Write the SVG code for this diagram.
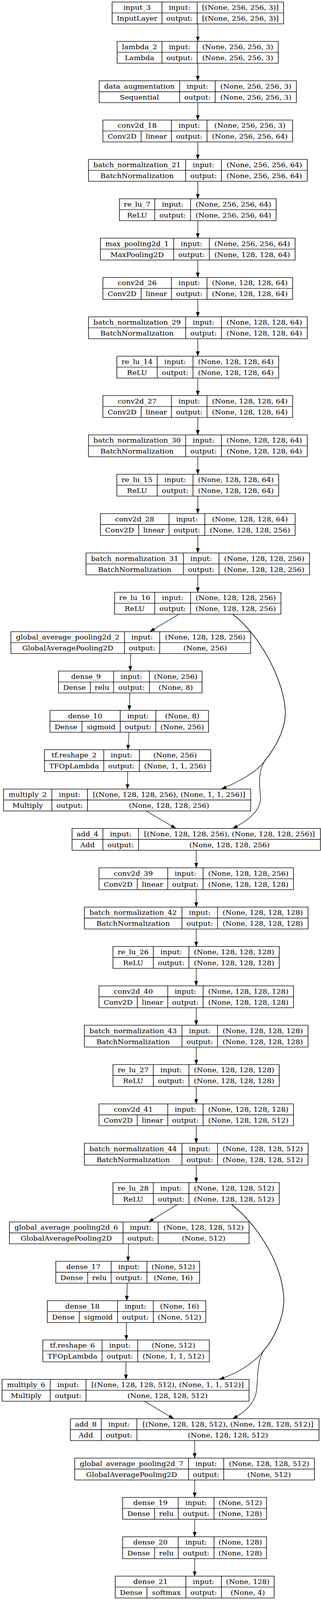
<svg xmlns="http://www.w3.org/2000/svg" width="822" height="4500" viewBox="0 0 822 4500">
<style>
.b{fill:#fff;stroke:#000;stroke-width:1.5}
.l{fill:none;stroke:#000;stroke-width:1.5}
text{font-family:"DejaVu Serif",serif;font-size:18.5px;text-anchor:middle;fill:#000}
.e{fill:none;stroke:#000;stroke-width:1.3;marker-end:url(#ah)}
</style>
<defs>
<marker id="ah" markerUnits="userSpaceOnUse" viewBox="0 0 14 10" markerWidth="14" markerHeight="10" refX="13.6" refY="4.8" orient="auto"><path d="M0,0 L13.6,4.8 L0,9.6 z" fill="#000"/></marker>
</defs>
<rect width="822" height="4500" fill="#fff"/>
<g id="diagram" transform="scale(1,0.91022)">
<g id="connectors">
<path class="e" d="M506.5,67.2V116.4"/>
<path class="e" d="M506.5,177.9V227.1"/>
<path class="e" d="M506.5,288.6V337.7"/>
<path class="e" d="M506.5,399.2V448.4"/>
<path class="e" d="M506.5,509.9V559.1"/>
<path class="e" d="M506.5,620.6V669.8"/>
<path class="e" d="M506.5,731.3V780.5"/>
<path class="e" d="M506.5,842V891.1"/>
<path class="e" d="M506.5,952.6V1001.8"/>
<path class="e" d="M506.5,1063.3V1112.5"/>
<path class="e" d="M506.5,1174V1223.2"/>
<path class="e" d="M506.5,1284.7V1333.9"/>
<path class="e" d="M506.5,1395.4V1444.5"/>
<path class="e" d="M506.5,1506V1555.2"/>
<path class="e" d="M506.5,1616.7V1665.9"/>
<path class="e" d="M458.5,1727.4L383.7,1776.6"/>
<path class="e" d="M334.8,1838.1L333.5,1887.3"/>
<path class="e" d="M332.5,1948.8L331,1997.9"/>
<path class="e" d="M330.5,2059.4L327.5,2108.6"/>
<path class="e" d="M326.7,2170.1L326.5,2219.3"/>
<path class="e" d="M374,2280.8L450.6,2330"/>
<path class="e" d="M595.5,1727.4C660,1780 722,1900 730,1990C736,2050 700,2110 680,2137C660,2170 610,2200 566.5,2219.3"/>
<path class="e" d="M595.5,1727.4C660,1780 722,1900 730,1990C736,2050 700,2110 680,2137C662,2165 663,2200 667,2240C670,2280 632,2310 595.5,2330"/>
<path class="e" d="M502.5,2391.5V2440.7"/>
<path class="e" d="M502.5,2502.2V2551.3"/>
<path class="e" d="M502.5,2612.8V2662"/>
<path class="e" d="M502.5,2723.5V2772.7"/>
<path class="e" d="M502.5,2834.2V2883.4"/>
<path class="e" d="M502.5,2944.9V2994.1"/>
<path class="e" d="M502.5,3055.6V3104.7"/>
<path class="e" d="M502.5,3166.2V3215.4"/>
<path class="e" d="M502.5,3276.9V3326.1"/>
<path class="e" d="M454.3,3387.6L380.5,3436.8"/>
<path class="e" d="M329.4,3498.3L327.8,3547.5"/>
<path class="e" d="M325.7,3609L324.6,3658.1"/>
<path class="e" d="M323.6,3719.6L323.6,3768.8"/>
<path class="e" d="M322.5,3830.3L322.5,3879.5"/>
<path class="e" d="M370,3941L445,3990.2"/>
<path class="e" d="M592.9,3387.6C655,3440 718,3545 726,3640C732,3700 700,3768 676,3797C655,3830 610,3862 561,3879.5"/>
<path class="e" d="M592.9,3387.6C655,3440 718,3545 726,3640C732,3700 700,3768 676,3797C660,3825 660,3860 658,3900C656,3945 630,3970 595.5,3990.2"/>
<path class="e" d="M498.5,4051.7V4100.9"/>
<path class="e" d="M498.5,4162.4V4211.5"/>
<path class="e" d="M498.5,4273V4322.2"/>
<path class="e" d="M498.5,4383.7V4432.9"/>
</g>

<g id="input_3" transform="translate(287.2,5.7)"><rect class="b" width="439" height="61.5"/><path class="l" d="M0,30.75H439M127.5,0V61.5M217.7,0V61.5"/>
<text x="63.75" y="22">input_3</text><text x="63.75" y="52.8">InputLayer</text><text x="172.6" y="22">input:</text><text x="172.6" y="52.8">output:</text><text x="328.35" y="22">[(None, 256, 256, 3)]</text><text x="328.35" y="52.8">[(None, 256, 256, 3)]</text></g>

<g id="lambda_2" transform="translate(299.9,116.4)"><rect class="b" width="412.6" height="61.5"/><path class="l" d="M0,30.75H412.6M114.8,0V61.5M205,0V61.5"/>
<text x="57.4" y="22">lambda_2</text><text x="57.4" y="52.8">Lambda</text><text x="159.9" y="22">input:</text><text x="159.9" y="52.8">output:</text><text x="308.8" y="22">(None, 256, 256, 3)</text><text x="308.8" y="52.8">(None, 256, 256, 3)</text></g>

<g id="data_augmentation" transform="translate(254,227.1)"><rect class="b" width="504.9" height="61.5"/><path class="l" d="M0,30.75H504.9M206,0V61.5M297.2,0V61.5"/>
<text x="103" y="22">data_augmentation</text><text x="103" y="52.8">Sequential</text><text x="251.6" y="22">input:</text><text x="251.6" y="52.8">output:</text><text x="401.05" y="22">(None, 256, 256, 3)</text><text x="401.05" y="52.8">(None, 256, 256, 3)</text></g>

<g id="conv2d_18" transform="translate(263.5,337.7)"><rect class="b" width="485.9" height="61.5"/><path class="l" d="M0,30.75H485.9M175.5,0V61.5M266.7,0V61.5M98,30.75V61.5"/>
<text x="87.75" y="22">conv2d_18</text><text x="49" y="52.8">Conv2D</text><text x="136.75" y="52.8">linear</text><text x="221.1" y="22">input:</text><text x="221.1" y="52.8">output:</text><text x="376.3" y="22">(None, 256, 256, 3)</text><text x="376.3" y="52.8">(None, 256, 256, 64)</text></g>

<g id="batch_normalization_21" transform="translate(226.6,448.4)"><rect class="b" width="560.2" height="61.5"/><path class="l" d="M0,30.75H560.2M248.8,0V61.5M340.4,0V61.5"/>
<text x="124.4" y="22">batch_normalization_21</text><text x="124.4" y="52.8">BatchNormalization</text><text x="294.6" y="22">input:</text><text x="294.6" y="52.8">output:</text><text x="450.3" y="22">(None, 256, 256, 64)</text><text x="450.3" y="52.8">(None, 256, 256, 64)</text></g>

<g id="re_lu_7" transform="translate(305.7,559.1)"><rect class="b" width="401.5" height="61.5"/><path class="l" d="M0,30.75H401.5M90.6,0V61.5M182.3,0V61.5"/>
<text x="45.3" y="22">re_lu_7</text><text x="45.3" y="52.8">ReLU</text><text x="136.45" y="22">input:</text><text x="136.45" y="52.8">output:</text><text x="291.9" y="22">(None, 256, 256, 64)</text><text x="291.9" y="52.8">(None, 256, 256, 64)</text></g>

<g id="max_pooling2d_1" transform="translate(257.2,669.8)"><rect class="b" width="498.5" height="61.5"/><path class="l" d="M0,30.75H498.5M187.6,0V61.5M278.8,0V61.5"/>
<text x="93.8" y="22">max_pooling2d_1</text><text x="93.8" y="52.8">MaxPooling2D</text><text x="233.2" y="22">input:</text><text x="233.2" y="52.8">output:</text><text x="388.65" y="22">(None, 256, 256, 64)</text><text x="388.65" y="52.8">(None, 128, 128, 64)</text></g>

<g id="conv2d_26" transform="translate(263.5,780.5)"><rect class="b" width="485.9" height="61.5"/><path class="l" d="M0,30.75H485.9M175.5,0V61.5M266.7,0V61.5M98,30.75V61.5"/>
<text x="87.75" y="22">conv2d_26</text><text x="49" y="52.8">Conv2D</text><text x="136.75" y="52.8">linear</text><text x="221.1" y="22">input:</text><text x="221.1" y="52.8">output:</text><text x="376.3" y="22">(None, 128, 128, 64)</text><text x="376.3" y="52.8">(None, 128, 128, 64)</text></g>

<g id="batch_normalization_29" transform="translate(226.6,891.1)"><rect class="b" width="560.2" height="61.5"/><path class="l" d="M0,30.75H560.2M248.8,0V61.5M340.4,0V61.5"/>
<text x="124.4" y="22">batch_normalization_29</text><text x="124.4" y="52.8">BatchNormalization</text><text x="294.6" y="22">input:</text><text x="294.6" y="52.8">output:</text><text x="450.3" y="22">(None, 128, 128, 64)</text><text x="450.3" y="52.8">(None, 128, 128, 64)</text></g>

<g id="re_lu_14" transform="translate(299.3,1001.8)"><rect class="b" width="414.3" height="61.5"/><path class="l" d="M0,30.75H414.3M103.3,0V61.5M195,0V61.5"/>
<text x="51.65" y="22">re_lu_14</text><text x="51.65" y="52.8">ReLU</text><text x="149.15" y="22">input:</text><text x="149.15" y="52.8">output:</text><text x="304.65" y="22">(None, 128, 128, 64)</text><text x="304.65" y="52.8">(None, 128, 128, 64)</text></g>

<g id="conv2d_27" transform="translate(263.5,1112.5)"><rect class="b" width="485.9" height="61.5"/><path class="l" d="M0,30.75H485.9M175.5,0V61.5M266.7,0V61.5M98,30.75V61.5"/>
<text x="87.75" y="22">conv2d_27</text><text x="49" y="52.8">Conv2D</text><text x="136.75" y="52.8">linear</text><text x="221.1" y="22">input:</text><text x="221.1" y="52.8">output:</text><text x="376.3" y="22">(None, 128, 128, 64)</text><text x="376.3" y="52.8">(None, 128, 128, 64)</text></g>

<g id="batch_normalization_30" transform="translate(226.6,1223.2)"><rect class="b" width="560.2" height="61.5"/><path class="l" d="M0,30.75H560.2M248.8,0V61.5M340.4,0V61.5"/>
<text x="124.4" y="22">batch_normalization_30</text><text x="124.4" y="52.8">BatchNormalization</text><text x="294.6" y="22">input:</text><text x="294.6" y="52.8">output:</text><text x="450.3" y="22">(None, 128, 128, 64)</text><text x="450.3" y="52.8">(None, 128, 128, 64)</text></g>

<g id="re_lu_15" transform="translate(299.3,1333.9)"><rect class="b" width="414.3" height="61.5"/><path class="l" d="M0,30.75H414.3M103.3,0V61.5M195,0V61.5"/>
<text x="51.65" y="22">re_lu_15</text><text x="51.65" y="52.8">ReLU</text><text x="149.15" y="22">input:</text><text x="149.15" y="52.8">output:</text><text x="304.65" y="22">(None, 128, 128, 64)</text><text x="304.65" y="52.8">(None, 128, 128, 64)</text></g>

<g id="conv2d_28" transform="translate(257.2,1444.5)"><rect class="b" width="498.5" height="61.5"/><path class="l" d="M0,30.75H498.5M175.5,0V61.5M267.2,0V61.5M98,30.75V61.5"/>
<text x="87.75" y="22">conv2d_28</text><text x="49" y="52.8">Conv2D</text><text x="136.75" y="52.8">linear</text><text x="221.35" y="22">input:</text><text x="221.35" y="52.8">output:</text><text x="382.85" y="22">(None, 128, 128, 64)</text><text x="382.85" y="52.8">(None, 128, 128, 256)</text></g>

<g id="batch_normalization_31" transform="translate(220.3,1555.2)"><rect class="b" width="572.3" height="61.5"/><path class="l" d="M0,30.75H572.3M249.3,0V61.5M340.4,0V61.5"/>
<text x="124.65" y="22">batch_normalization_31</text><text x="124.65" y="52.8">BatchNormalization</text><text x="294.85" y="22">input:</text><text x="294.85" y="52.8">output:</text><text x="456.35" y="22">(None, 128, 128, 256)</text><text x="456.35" y="52.8">(None, 128, 128, 256)</text></g>

<g id="re_lu_16" transform="translate(293.5,1665.9)"><rect class="b" width="425.9" height="61.5"/><path class="l" d="M0,30.75H425.9M102.8,0V61.5M194.5,0V61.5"/>
<text x="51.4" y="22">re_lu_16</text><text x="51.4" y="52.8">ReLU</text><text x="148.65" y="22">input:</text><text x="148.65" y="52.8">output:</text><text x="310.2" y="22">(None, 128, 128, 256)</text><text x="310.2" y="52.8">(None, 128, 128, 256)</text></g>

<g id="global_average_pooling2d_2" transform="translate(27.9,1776.6)"><rect class="b" width="614" height="61.5"/><path class="l" d="M0,30.75H614M290.9,0V61.5M381,0V61.5"/>
<text x="145.45" y="22">global_average_pooling2d_2</text><text x="145.45" y="52.8">GlobalAveragePooling2D</text><text x="335.95" y="22">input:</text><text x="335.95" y="52.8">output:</text><text x="497.5" y="22">(None, 128, 128, 256)</text><text x="497.5" y="52.8">(None, 256)</text></g>

<g id="dense_9" transform="translate(149.7,1887.3)"><rect class="b" width="367.8" height="61.5"/><path class="l" d="M0,30.75H367.8M141.2,0V61.5M232.9,0V61.5M81.7,30.75V61.5"/>
<text x="70.6" y="22">dense_9</text><text x="40.85" y="52.8">Dense</text><text x="111.45" y="52.8">relu</text><text x="187.05" y="22">input:</text><text x="187.05" y="52.8">output:</text><text x="300.35" y="22">(None, 256)</text><text x="300.35" y="52.8">(None, 8)</text></g>

<g id="dense_10" transform="translate(128,1997.9)"><rect class="b" width="405.9" height="61.5"/><path class="l" d="M0,30.75H405.9M179.8,0V61.5M271,0V61.5M81.7,30.75V61.5"/>
<text x="89.9" y="22">dense_10</text><text x="40.85" y="52.8">Dense</text><text x="130.75" y="52.8">sigmoid</text><text x="225.4" y="22">input:</text><text x="225.4" y="52.8">output:</text><text x="338.45" y="22">(None, 8)</text><text x="338.45" y="52.8">(None, 256)</text></g>

<g id="tf_reshape_2" transform="translate(113.8,2108.6)"><rect class="b" width="425.8" height="61.5"/><path class="l" d="M0,30.75H425.8M151.8,0V61.5M243,0V61.5"/>
<text x="75.9" y="22">tf.reshape_2</text><text x="75.9" y="52.8">TFOpLambda</text><text x="197.4" y="22">input:</text><text x="197.4" y="52.8">output:</text><text x="334.4" y="22">(None, 256)</text><text x="334.4" y="52.8">(None, 1, 1, 256)</text></g>

<g id="multiply_2" transform="translate(9,2219.3)"><rect class="b" width="632.9" height="61.5"/><path class="l" d="M0,30.75H632.9M123.8,0V61.5M215,0V61.5"/>
<text x="61.9" y="22">multiply_2</text><text x="61.9" y="52.8">Multiply</text><text x="169.4" y="22">input:</text><text x="169.4" y="52.8">output:</text><text x="423.95" y="22">[(None, 128, 128, 256), (None, 1, 1, 256)]</text><text x="423.95" y="52.8">(None, 128, 128, 256)</text></g>

<g id="add_4" transform="translate(184.5,2330)"><rect class="b" width="636" height="61.5"/><path class="l" d="M0,30.75H636M79,0V61.5M170.2,0V61.5"/>
<text x="39.5" y="22">add_4</text><text x="39.5" y="52.8">Add</text><text x="124.6" y="22">input:</text><text x="124.6" y="52.8">output:</text><text x="403.1" y="22">[(None, 128, 128, 256), (None, 128, 128, 256)]</text><text x="403.1" y="52.8">(None, 128, 128, 256)</text></g>

<g id="conv2d_39" transform="translate(253.5,2440.7)"><rect class="b" width="498" height="61.5"/><path class="l" d="M0,30.75H498M176,0V61.5M266.6,0V61.5M98,30.75V61.5"/>
<text x="88" y="22">conv2d_39</text><text x="49" y="52.8">Conv2D</text><text x="137" y="52.8">linear</text><text x="221.3" y="22">input:</text><text x="221.3" y="52.8">output:</text><text x="382.3" y="22">(None, 128, 128, 256)</text><text x="382.3" y="52.8">(None, 128, 128, 128)</text></g>

<g id="batch_normalization_42" transform="translate(216,2551.3)"><rect class="b" width="572.9" height="61.5"/><path class="l" d="M0,30.75H572.9M249.9,0V61.5M341,0V61.5"/>
<text x="124.95" y="22">batch_normalization_42</text><text x="124.95" y="52.8">BatchNormalization</text><text x="295.45" y="22">input:</text><text x="295.45" y="52.8">output:</text><text x="456.95" y="22">(None, 128, 128, 128)</text><text x="456.95" y="52.8">(None, 128, 128, 128)</text></g>

<g id="re_lu_26" transform="translate(289.3,2662)"><rect class="b" width="425.8" height="61.5"/><path class="l" d="M0,30.75H425.8M103.3,0V61.5M194.5,0V61.5"/>
<text x="51.65" y="22">re_lu_26</text><text x="51.65" y="52.8">ReLU</text><text x="148.9" y="22">input:</text><text x="148.9" y="52.8">output:</text><text x="310.15" y="22">(None, 128, 128, 128)</text><text x="310.15" y="52.8">(None, 128, 128, 128)</text></g>

<g id="conv2d_40" transform="translate(253.5,2772.7)"><rect class="b" width="498" height="61.5"/><path class="l" d="M0,30.75H498M176,0V61.5M266.6,0V61.5M98,30.75V61.5"/>
<text x="88" y="22">conv2d_40</text><text x="49" y="52.8">Conv2D</text><text x="137" y="52.8">linear</text><text x="221.3" y="22">input:</text><text x="221.3" y="52.8">output:</text><text x="382.3" y="22">(None, 128, 128, 128)</text><text x="382.3" y="52.8">(None, 128, 128, 128)</text></g>

<g id="batch_normalization_43" transform="translate(216,2883.4)"><rect class="b" width="572.9" height="61.5"/><path class="l" d="M0,30.75H572.9M249.9,0V61.5M341,0V61.5"/>
<text x="124.95" y="22">batch_normalization_43</text><text x="124.95" y="52.8">BatchNormalization</text><text x="295.45" y="22">input:</text><text x="295.45" y="52.8">output:</text><text x="456.95" y="22">(None, 128, 128, 128)</text><text x="456.95" y="52.8">(None, 128, 128, 128)</text></g>

<g id="re_lu_27" transform="translate(289.3,2994.1)"><rect class="b" width="425.8" height="61.5"/><path class="l" d="M0,30.75H425.8M103.3,0V61.5M194.5,0V61.5"/>
<text x="51.65" y="22">re_lu_27</text><text x="51.65" y="52.8">ReLU</text><text x="148.9" y="22">input:</text><text x="148.9" y="52.8">output:</text><text x="310.15" y="22">(None, 128, 128, 128)</text><text x="310.15" y="52.8">(None, 128, 128, 128)</text></g>

<g id="conv2d_41" transform="translate(253.5,3104.7)"><rect class="b" width="498" height="61.5"/><path class="l" d="M0,30.75H498M176,0V61.5M266.6,0V61.5M98,30.75V61.5"/>
<text x="88" y="22">conv2d_41</text><text x="49" y="52.8">Conv2D</text><text x="137" y="52.8">linear</text><text x="221.3" y="22">input:</text><text x="221.3" y="52.8">output:</text><text x="382.3" y="22">(None, 128, 128, 128)</text><text x="382.3" y="52.8">(None, 128, 128, 512)</text></g>

<g id="batch_normalization_44" transform="translate(216,3215.4)"><rect class="b" width="572.9" height="61.5"/><path class="l" d="M0,30.75H572.9M249.9,0V61.5M341,0V61.5"/>
<text x="124.95" y="22">batch_normalization_44</text><text x="124.95" y="52.8">BatchNormalization</text><text x="295.45" y="22">input:</text><text x="295.45" y="52.8">output:</text><text x="456.95" y="22">(None, 128, 128, 512)</text><text x="456.95" y="52.8">(None, 128, 128, 512)</text></g>

<g id="re_lu_28" transform="translate(289.3,3326.1)"><rect class="b" width="425.8" height="61.5"/><path class="l" d="M0,30.75H425.8M103.3,0V61.5M194.5,0V61.5"/>
<text x="51.65" y="22">re_lu_28</text><text x="51.65" y="52.8">ReLU</text><text x="148.9" y="22">input:</text><text x="148.9" y="52.8">output:</text><text x="310.15" y="22">(None, 128, 128, 512)</text><text x="310.15" y="52.8">(None, 128, 128, 512)</text></g>

<g id="global_average_pooling2d_6" transform="translate(24.2,3436.8)"><rect class="b" width="613.5" height="61.5"/><path class="l" d="M0,30.75H613.5M290.9,0V61.5M381,0V61.5"/>
<text x="145.45" y="22">global_average_pooling2d_6</text><text x="145.45" y="52.8">GlobalAveragePooling2D</text><text x="335.95" y="22">input:</text><text x="335.95" y="52.8">output:</text><text x="497.25" y="22">(None, 128, 128, 512)</text><text x="497.25" y="52.8">(None, 512)</text></g>

<g id="dense_17" transform="translate(142.8,3547.5)"><rect class="b" width="368.4" height="61.5"/><path class="l" d="M0,30.75H368.4M141.8,0V61.5M233.5,0V61.5M81.7,30.75V61.5"/>
<text x="70.9" y="22">dense_17</text><text x="40.85" y="52.8">Dense</text><text x="111.75" y="52.8">relu</text><text x="187.65" y="22">input:</text><text x="187.65" y="52.8">output:</text><text x="300.95" y="22">(None, 512)</text><text x="300.95" y="52.8">(None, 16)</text></g>

<g id="dense_18" transform="translate(121.2,3658.1)"><rect class="b" width="405.8" height="61.5"/><path class="l" d="M0,30.75H405.8M179.7,0V61.5M271.4,0V61.5M81.7,30.75V61.5"/>
<text x="89.85" y="22">dense_18</text><text x="40.85" y="52.8">Dense</text><text x="130.7" y="52.8">sigmoid</text><text x="225.55" y="22">input:</text><text x="225.55" y="52.8">output:</text><text x="338.6" y="22">(None, 16)</text><text x="338.6" y="52.8">(None, 512)</text></g>

<g id="tf_reshape_6" transform="translate(109.6,3768.8)"><rect class="b" width="426.4" height="61.5"/><path class="l" d="M0,30.75H426.4M151.8,0V61.5M243,0V61.5"/>
<text x="75.9" y="22">tf.reshape_6</text><text x="75.9" y="52.8">TFOpLambda</text><text x="197.4" y="22">input:</text><text x="197.4" y="52.8">output:</text><text x="334.7" y="22">(None, 512)</text><text x="334.7" y="52.8">(None, 1, 1, 512)</text></g>

<g id="multiply_6" transform="translate(5.3,3879.5)"><rect class="b" width="632.4" height="61.5"/><path class="l" d="M0,30.75H632.4M123.3,0V61.5M215,0V61.5"/>
<text x="61.65" y="22">multiply_6</text><text x="61.65" y="52.8">Multiply</text><text x="169.15" y="22">input:</text><text x="169.15" y="52.8">output:</text><text x="423.7" y="22">[(None, 128, 128, 512), (None, 1, 1, 512)]</text><text x="423.7" y="52.8">(None, 128, 128, 512)</text></g>

<g id="add_8" transform="translate(180.2,3990.2)"><rect class="b" width="636.7" height="61.5"/><path class="l" d="M0,30.75H636.7M79.1,0V61.5M170.3,0V61.5"/>
<text x="39.55" y="22">add_8</text><text x="39.55" y="52.8">Add</text><text x="124.7" y="22">input:</text><text x="124.7" y="52.8">output:</text><text x="403.5" y="22">[(None, 128, 128, 512), (None, 128, 128, 512)]</text><text x="403.5" y="52.8">(None, 128, 128, 512)</text></g>

<g id="global_average_pooling2d_7" transform="translate(191.3,4100.9)"><rect class="b" width="614" height="61.5"/><path class="l" d="M0,30.75H614M291.4,0V61.5M381.5,0V61.5"/>
<text x="145.7" y="22">global_average_pooling2d_7</text><text x="145.7" y="52.8">GlobalAveragePooling2D</text><text x="336.45" y="22">input:</text><text x="336.45" y="52.8">output:</text><text x="497.75" y="22">(None, 128, 128, 512)</text><text x="497.75" y="52.8">(None, 512)</text></g>

<g id="dense_19" transform="translate(314.1,4211.5)"><rect class="b" width="368.4" height="61.5"/><path class="l" d="M0,30.75H368.4M142.3,0V61.5M233.9,0V61.5M81.7,30.75V61.5"/>
<text x="71.15" y="22">dense_19</text><text x="40.85" y="52.8">Dense</text><text x="112" y="52.8">relu</text><text x="188.1" y="22">input:</text><text x="188.1" y="52.8">output:</text><text x="301.15" y="22">(None, 512)</text><text x="301.15" y="52.8">(None, 128)</text></g>

<g id="dense_20" transform="translate(314.1,4322.2)"><rect class="b" width="368.4" height="61.5"/><path class="l" d="M0,30.75H368.4M142.3,0V61.5M233.9,0V61.5M81.7,30.75V61.5"/>
<text x="71.15" y="22">dense_20</text><text x="40.85" y="52.8">Dense</text><text x="112" y="52.8">relu</text><text x="188.1" y="22">input:</text><text x="188.1" y="52.8">output:</text><text x="301.15" y="22">(None, 128)</text><text x="301.15" y="52.8">(None, 128)</text></g>

<g id="dense_21" transform="translate(295.1,4432.9)"><rect class="b" width="406.9" height="61.5"/><path class="l" d="M0,30.75H406.9M180.8,0V61.5M271.9,0V61.5M81.2,30.75V61.5"/>
<text x="90.4" y="22">dense_21</text><text x="40.6" y="52.8">Dense</text><text x="131" y="52.8">softmax</text><text x="226.35" y="22">input:</text><text x="226.35" y="52.8">output:</text><text x="339.4" y="22">(None, 128)</text><text x="339.4" y="52.8">(None, 4)</text></g>
</g>
</svg>
